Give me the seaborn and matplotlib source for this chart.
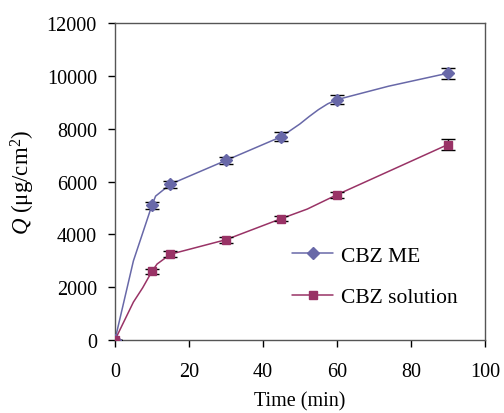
import numpy as np
import pandas as pd
import matplotlib
matplotlib.use("Agg")
import matplotlib.pyplot as plt
from matplotlib.lines import Line2D
import seaborn as sns

# measured points (markers + error bars)
time_pts = [0, 10, 15, 30, 45, 60, 90]
me_q = [0, 5100, 5900, 6800, 7700, 9100, 10100]
me_err = [0, 120, 130, 130, 160, 160, 200]
sol_q = [0, 2600, 3250, 3800, 4600, 5500, 7400]
sol_err = [0, 100, 110, 120, 110, 110, 220]

# curve points read from the drawn (smoothed) lines
me_curve_t = [0, 5, 7.5, 10, 11, 15, 30, 45, 50, 52.5, 55, 57.5, 60, 74, 90]
me_curve_q = [0, 3000, 4050, 5100, 5450, 5900, 6800, 7700, 8180, 8460, 8720, 8940, 9100, 9610, 10100]
sol_curve_t = [0, 5, 7.5, 10, 11.4, 15, 30, 45, 52, 60, 75, 90]
sol_curve_q = [0, 1440, 1980, 2600, 2880, 3250, 3800, 4600, 4960, 5500, 6450, 7400]

me_color = "#6868a8"
sol_color = "#993366"

sns.set_style("ticks")
plt.rcParams["font.family"] = ["Liberation Serif", "DejaVu Serif"]
plt.rcParams["mathtext.fontset"] = "custom"
plt.rcParams["mathtext.rm"] = "Liberation Serif"
plt.rcParams["mathtext.it"] = "Liberation Serif:italic"
plt.rcParams["text.color"] = "black"
plt.rcParams["axes.labelcolor"] = "black"
plt.rcParams["xtick.color"] = "black"
plt.rcParams["ytick.color"] = "black"

fig = plt.figure(figsize=(5.04, 4.14), dpi=100)
ax = fig.add_axes([0.228, 0.176, 0.734, 0.766])

curves = pd.concat([
    pd.DataFrame({"t": me_curve_t, "q": me_curve_q, "s": "CBZ ME"}),
    pd.DataFrame({"t": sol_curve_t, "q": sol_curve_q, "s": "CBZ solution"}),
])
sns.lineplot(data=curves, x="t", y="q", hue="s", palette=[me_color, sol_color],
             linewidth=1.1, legend=False, ax=ax, sort=False)

ax.errorbar(time_pts, me_q, yerr=me_err, fmt="D", color=me_color, ms=6,
            ecolor="black", elinewidth=1.0, capsize=5, capthick=1.0, zorder=3)
ax.errorbar(time_pts, sol_q, yerr=sol_err, fmt="s", color=sol_color, ms=6,
            ecolor="black", elinewidth=1.0, capsize=5, capthick=1.0, zorder=3)

ax.set_xlim(0, 100)
ax.set_ylim(0, 12000)
ax.set_xticks(range(0, 101, 20))
ax.set_yticks(range(0, 12001, 2000))
ax.tick_params(axis="both", labelsize=14.5, length=5, width=1, direction="out")
ax.tick_params(axis="x", pad=11)
ax.tick_params(axis="y", pad=8)
ax.set_xlabel("Time (min)", fontsize=14.5, labelpad=7)
ax.set_ylabel(r"$Q$ (μg/cm$^2$)", fontsize=16.5, labelpad=7)
for sp in ax.spines.values():
    sp.set_color("#555555")
    sp.set_linewidth(1.0)

handles = [
    Line2D([], [], color=me_color, marker="D", ms=6, lw=1.1),
    Line2D([], [], color=sol_color, marker="s", ms=6, lw=1.1),
]
ax.legend(handles, ["CBZ ME", "CBZ solution"], frameon=False, fontsize=15.5,
          loc="upper left", bbox_to_anchor=(0.48, 0.298), handlelength=1.9,
          handletextpad=0.35, labelspacing=1.0, borderaxespad=0, borderpad=0)

fig.savefig("out.png", dpi=100)
